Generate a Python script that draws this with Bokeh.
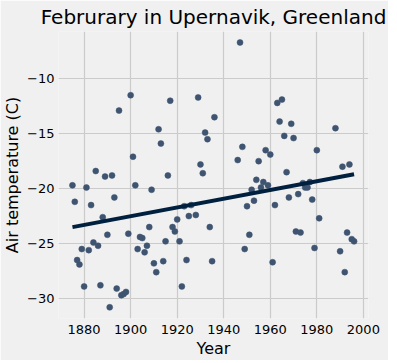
import numpy as np
from bokeh.plotting import figure
from bokeh.models import Range1d, FixedTicker, ColumnDataSource
from bokeh.embed import file_html
from bokeh.resources import INLINE

years = [1875, 1876, 1877, 1878, 1879, 1880, 1881, 1882, 1883, 1884,
         1885, 1886, 1887, 1888, 1889, 1890, 1891, 1892, 1893, 1894,
         1895, 1896, 1897, 1898, 1899, 1900, 1901, 1902, 1903, 1904,
         1905, 1906, 1907, 1908, 1909, 1910, 1911, 1912, 1913, 1914,
         1915, 1916, 1917, 1918, 1919, 1920, 1921, 1922, 1923, 1924,
         1925, 1926, 1928, 1929, 1930, 1931, 1932, 1933, 1934, 1935,
         1936, 1946, 1947, 1948, 1949, 1950, 1951, 1952, 1953, 1954,
         1955, 1956, 1957, 1958, 1959, 1960, 1961, 1962, 1963, 1964,
         1965, 1966, 1967, 1968, 1969, 1970, 1971, 1972, 1973, 1974,
         1975, 1976, 1977, 1978, 1979, 1980, 1981, 1988, 1990, 1991,
         1992, 1993, 1994, 1995, 1996]
temps = [-19.7, -21.2, -26.5, -26.9, -25.5, -28.9, -19.9, -25.6, -21.5, -24.9,
         -18.4, -25.2, -28.8, -22.6, -18.9, -24.2, -30.8, -18.8, -20.8, -29.1,
         -12.9, -29.7, -29.6, -29.4, -24.1, -11.5, -17.1, -19.7, -25.5, -24.4,
         -24.5, -25.8, -25.2, -23.5, -20.1, -26.8, -27.6, -14.6, -15.9, -26.6,
         -24.8, -18.8, -12.0, -23.5, -23.9, -22.8, -24.8, -28.9, -21.6, -26.5,
         -22.5, -21.5, -22.4, -11.7, -17.8, -18.6, -14.9, -15.5, -23.5, -26.6,
         -13.5, -17.4, -6.7, -16.2, -25.5, -21.6, -24.2, -20.1, -21.1, -19.2,
         -17.5, -19.9, -19.4, -16.5, -19.7, -16.9, -26.7, -21.5, -12.2, -13.9,
         -11.9, -15.2, -18.5, -20.8, -14.1, -15.4, -23.9, -20.5, -24.0, -19.5,
         -19.9, -19.9, -19.4, -21.0, -25.4, -16.5, -22.7, -14.5, -25.7, -18.0,
         -27.6, -24.0, -17.8, -24.6, -24.8]

x_ticks = [1880, 1900, 1920, 1940, 1960, 1980, 2000]
y_ticks = [-30, -25, -20, -15, -10]
y_tick_labels = ["\u221230", "\u221225", "\u221220", "\u221215", "\u221210"]

BG = "#f0f0f0"
FONT = "DejaVu Sans"

p = figure(frame_width=310, frame_height=287, output_backend="svg",
           toolbar_location=None,
           x_range=Range1d(1869.0, 2002.2), y_range=Range1d(-31.82, -5.70),
           min_border_left=0, min_border_right=20, min_border_top=0,
           min_border_bottom=0,
           title="Februrary in Upernavik, Greenland")
p.background_fill_color = BG
p.border_fill_color = BG
p.outline_line_color = None

p.title.text_font = FONT
p.title.text_font_size = "20px"
p.title.text_font_style = "normal"
p.title.align = "center"
p.title.text_color = "#000000"
p.title.offset = 0
p.title.standoff = 5

p.xgrid.grid_line_color = "#cbcbcb"
p.ygrid.grid_line_color = "#cbcbcb"
p.xgrid.grid_line_width = 1.2
p.ygrid.grid_line_width = 1.2

for ax in (p.xaxis[0], p.yaxis[0]):
    ax.axis_line_color = None
    ax.major_tick_line_color = None
    ax.minor_tick_line_color = None
    ax.major_tick_out = 0
    ax.major_tick_in = 0
    ax.minor_tick_out = 0
    ax.minor_tick_in = 0
    ax.major_label_text_font = FONT
    ax.major_label_text_font_size = "13px"
    ax.major_label_text_color = "#000000"
    ax.axis_label_text_font = FONT
    ax.axis_label_text_font_size = "16px"
    ax.axis_label_text_font_style = "normal"
    ax.axis_label_text_color = "#000000"
    ax.major_label_standoff = 6
    ax.axis_label_standoff = 2

p.yaxis.major_label_standoff = 4

p.xaxis.ticker = FixedTicker(ticks=x_ticks)
p.yaxis.ticker = FixedTicker(ticks=y_ticks)
p.yaxis.major_label_overrides = {t: l for t, l in zip(y_ticks, y_tick_labels)}
p.xaxis.axis_label = "Year"
p.yaxis.axis_label = "Air temperature (C)"

src = ColumnDataSource(dict(x=years, y=temps))
p.scatter("x", "y", source=src, size=6, fill_color="#3e5470",
          line_color="#3e5470", line_width=0.5)

slope, intercept = np.polyfit(np.array(years, float), np.array(temps, float), 1)
fx = [min(years), max(years)]
fy = [slope * v + intercept for v in fx]
p.line(fx, fy, line_color="#00203f", line_width=4)

open("out.html", "w").write(file_html(p, INLINE))
